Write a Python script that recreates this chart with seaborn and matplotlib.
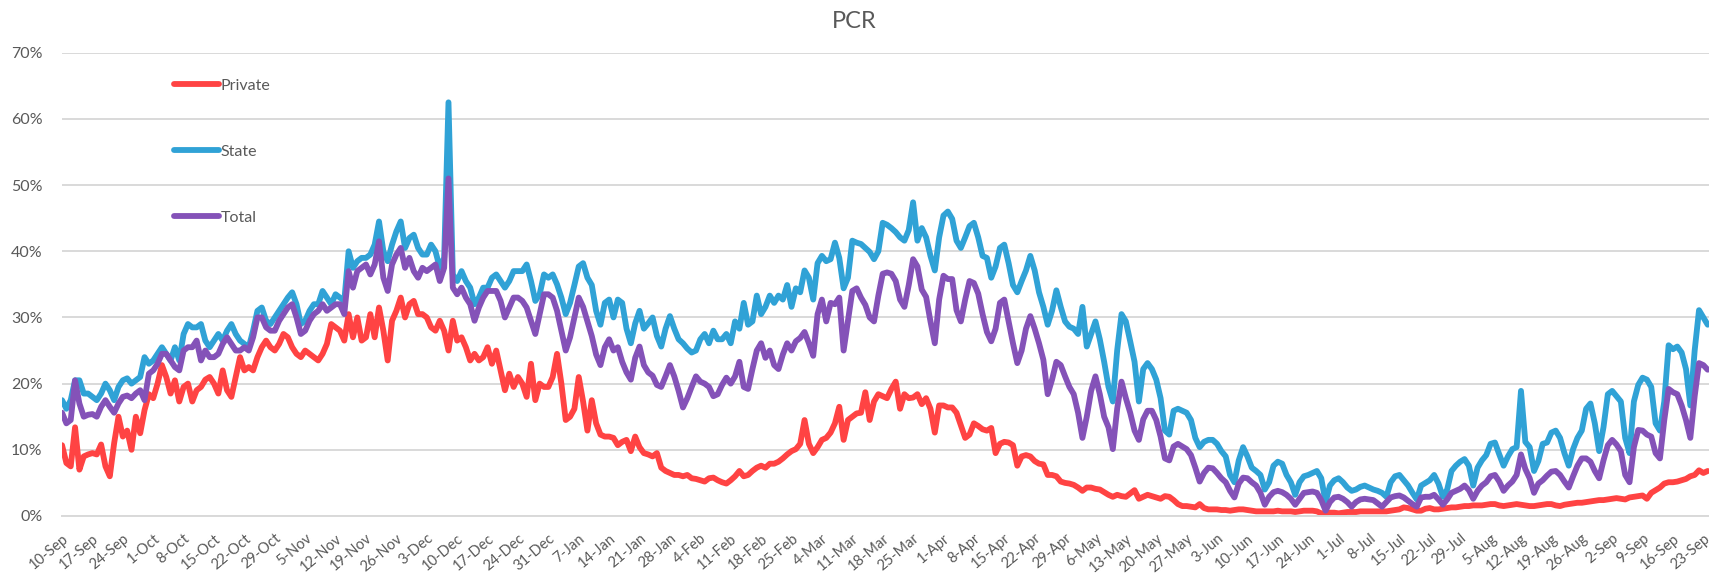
import matplotlib
matplotlib.use("Agg")
import matplotlib.pyplot as plt
import matplotlib.ticker as mticker
from matplotlib.lines import Line2D
import pandas as pd
import seaborn as sns

START = "2020-09-10"
SERIES = ["Private", "State", "Total"]
COLORS = {"Private": "#ff4343", "State": "#30a2d6", "Total": "#8452b8"}

# daily positivity (%), one row per week starting 10-Sep
private = [
    10.7, 8, 7.5, 13.4, 7, 9, 9.3,
    9.5, 9.3, 10.8, 7.5, 6, 11, 15,
    12, 12.9, 10, 15, 12.5, 16, 18.4,
    17.8, 20, 22.8, 21, 18.5, 20.5, 17.3,
    19.5, 20, 17.3, 19, 19.5, 20.6, 21,
    20, 18.5, 22, 19, 18, 21, 24,
    22, 22.5, 22, 24, 25.5, 26.5, 25.5,
    25, 26, 27.5, 27, 25.5, 24.5, 24,
    25, 24.5, 24, 23.5, 24.5, 26, 29,
    28.5, 28, 26.5, 30.5, 27, 30, 26.5,
    27, 30.5, 27, 31.5, 28, 23.5, 29.5,
    31, 33, 30, 32, 32.5, 30.5, 30.5,
    30, 28.5, 28, 29.5, 28, 25, 29.5,
    26.5, 27, 25.5, 23.5, 24.5, 23.5, 24,
    25.5, 23, 25, 22, 19, 21.5, 19.5,
    21, 20, 18, 23, 17.5, 20, 19.5,
    19.5, 21, 24.5, 20, 14.5, 15, 16.2,
    21, 17.3, 12.9, 17.5, 14, 12.3, 12,
    12, 11.8, 10.7, 11.2, 11.5, 9.8, 12,
    10.4, 9.5, 9.3, 9, 9.5, 7.3, 6.8,
    6.5, 6.2, 6.2, 6, 6.2, 5.7, 5.6,
    5.4, 5.2, 5.7, 5.8, 5.4, 5.1, 4.9,
    5.4, 6, 6.8, 6, 6.2, 6.8, 7.3,
    7.6, 7.3, 7.9, 7.9, 8.2, 8.7, 9.3,
    9.8, 10.1, 10.9, 14.5, 10.9, 9.5, 10.4,
    11.5, 11.8, 12.6, 14, 16.5, 11.5, 14.5,
    15, 15.5, 15.6, 18.7, 14.5, 17.3, 18.4,
    18.1, 17.8, 19.2, 20.3, 16.2, 18.4, 17.8,
    17.9, 18.4, 16.9, 17.8, 16.2, 12.6, 16.7,
    16.7, 16.4, 16.4, 15.6, 13.7, 11.8, 12.3,
    14, 13.6, 13.1, 12.9, 13.3, 9.5, 10.9,
    11.2, 11.1, 10.7, 7.6, 9, 9.2, 9,
    8.3, 7.9, 7.8, 6.2, 6.2, 6, 5.2,
    5, 4.9, 4.7, 4.3, 3.8, 4.3, 4.3,
    4.1, 4, 3.6, 3.2, 2.9, 3.2, 3,
    2.9, 3.4, 3.9, 2.6, 2.9, 3.2, 3,
    2.8, 2.6, 3, 2.9, 2.4, 1.8, 1.5,
    1.5, 1.4, 1.3, 1.8, 1.2, 1, 1,
    1, 0.9, 0.9, 0.8, 0.9, 1, 1,
    0.9, 0.8, 0.7, 0.7, 0.7, 0.7, 0.7,
    0.8, 0.7, 0.7, 0.7, 0.6, 0.7, 0.8,
    0.8, 0.8, 0.7, 0.4, 0.4, 0.5, 0.5,
    0.4, 0.5, 0.6, 0.6, 0.6, 0.7, 0.7,
    0.7, 0.7, 0.7, 0.7, 0.7, 0.8, 0.9,
    1, 1.3, 1.2, 1, 0.8, 0.8, 1.1,
    1.2, 1, 1, 1.1, 1.2, 1.3, 1.3,
    1.4, 1.5, 1.5, 1.6, 1.6, 1.6, 1.7,
    1.8, 1.8, 1.6, 1.5, 1.6, 1.7, 1.8,
    1.7, 1.6, 1.5, 1.5, 1.6, 1.7, 1.8,
    1.8, 1.6, 1.5, 1.7, 1.8, 1.9, 2,
    2, 2.1, 2.2, 2.3, 2.4, 2.4, 2.5,
    2.6, 2.7, 2.6, 2.5, 2.8, 2.9, 3,
    3.1, 2.6, 3.5, 3.9, 4.3, 4.9, 5.1,
    5.1, 5.2, 5.4, 5.6, 6, 6.2, 6.9,
    6.5, 6.8,
]

state = [
    17.5, 16.2, 17.5, 20.5, 20.5, 18.5, 18.5,
    18, 17.5, 18.5, 20, 19, 17.5, 19.5,
    20.5, 20.8, 20, 20.5, 21, 24, 23,
    23.5, 24.5, 25.5, 24.5, 23.5, 25.5, 23.5,
    27.5, 29, 28.5, 28.5, 29, 26.5, 25.5,
    26.5, 27.5, 26.5, 28, 29, 27.5, 26.5,
    26, 25.5, 28, 31, 31.5, 29.5, 29,
    30, 31, 32, 33, 33.8, 32, 29,
    29.5, 31, 32, 32, 34, 33, 32,
    33.5, 33, 32.5, 40, 37.5, 38.5, 39,
    39, 39.5, 41, 44.5, 40, 38.5, 41,
    43, 44.5, 40.5, 42, 42.5, 40.5, 39.5,
    39.5, 41, 40, 37.5, 39, 62.5, 36.5,
    35.5, 37, 35.5, 34.5, 32, 33, 34.5,
    34.5, 36, 36.5, 35.5, 34.5, 35.5, 37,
    37, 37, 38, 35.5, 32.5, 33.5, 36.5,
    36, 36.5, 35, 33, 30.5, 32.2, 34.9,
    37.7, 38.2, 36, 34.9, 31, 28.9, 32.2,
    32.7, 30, 32.7, 32.2, 28.3, 26.1, 29.1,
    31, 28.3, 29.1, 30, 27.2, 25.6, 28.3,
    30.2, 28.3, 26.7, 26.1, 25.3, 24.7, 25,
    26.7, 27.5, 26.1, 28, 26.7, 26.7, 27.5,
    26.1, 29.4, 28.3, 32.2, 28.9, 29.4, 33.3,
    30.5, 31.6, 33.3, 32.2, 33.3, 32.7, 34.9,
    31.6, 34.4, 33.8, 37.1, 36, 32.7, 38.2,
    39.3, 38.5, 38.8, 41.3, 39, 34.4, 36,
    41.6, 41.3, 41.1, 40.5, 39.9, 38.8, 40,
    44.3, 44, 43.5, 42.9, 42.1, 41.6, 43.2,
    47.4, 41.6, 43.5, 42.1, 39.3, 37.1, 42.1,
    45.4, 46, 44.9, 41.6, 40.5, 42.1, 43.8,
    44.3, 42.1, 39.3, 39, 36, 37.7, 40.5,
    41, 38.2, 34.9, 33.8, 35.5, 37.1, 39.3,
    37.1, 33.8, 31.6, 28.9, 31, 34.1, 31.6,
    29.4, 28.6, 28.3, 27.5, 31.6, 25.6, 27.5,
    29.4, 26.7, 23.3, 19.5, 17.3, 25, 30.5,
    29.4, 26.4, 23.3, 17.3, 22.2, 23.1, 22.2,
    20.6, 17.8, 12.9, 12.3, 15.9, 16.2, 15.9,
    15.6, 14.5, 11.8, 10.4, 11.2, 11.5, 11.5,
    10.9, 9.8, 9, 6.2, 5.1, 8.4, 10.4,
    9, 7.3, 6.8, 6.2, 4, 5.1, 7.6,
    8.2, 7.9, 6.2, 5.1, 3.2, 5.1, 6,
    6.2, 6.5, 6.8, 5.7, 2.1, 4.6, 5.4,
    5.7, 5.1, 4.3, 3.8, 4, 4.4, 4.6,
    4.3, 4, 3.8, 3.5, 2.9, 5.1, 6,
    6.2, 5.4, 4.6, 3.5, 2.5, 4.6, 5,
    5.4, 6.2, 4.9, 2.9, 4, 6.8, 7.6,
    8.2, 8.6, 7.6, 4.6, 7.3, 8.4, 9.2,
    10.9, 11.1, 9.3, 7.6, 9, 10.1, 10.4,
    18.9, 11.2, 10.4, 6.8, 8.3, 10.9, 11.1,
    12.6, 12.9, 11.8, 9.5, 7.6, 10.1, 11.8,
    12.9, 16.2, 17, 14, 9.8, 13.4, 18.4,
    18.9, 18.1, 17.3, 11.8, 9.5, 17.3, 19.8,
    20.9, 20.6, 19.5, 14, 12.9, 17.3, 25.8,
    25.2, 25.6, 24.7, 22.2, 16.7, 25, 31.1,
    30, 28.9,
]

total = [
    15.6, 14, 14.5, 20.5, 17, 15, 15.3,
    15.4, 15, 16.5, 17.5, 16.5, 15.6, 17,
    18, 18.2, 17.8, 18.5, 19, 17.5, 21.5,
    22, 23, 24.5, 24.5, 23.5, 22.5, 22,
    25, 25.5, 25.5, 26.5, 23.5, 25, 24,
    24, 24.5, 26, 27, 26, 25, 25,
    25.5, 25, 27, 30, 30, 28.5, 28,
    28, 29.5, 30.5, 31.5, 32, 30, 27.5,
    28, 29.5, 30.5, 31, 32, 31, 31.5,
    32, 32, 30.5, 37, 34.5, 37, 37.5,
    38, 36.5, 38, 41.5, 36, 34, 38,
    39.5, 40.5, 37.5, 39, 37, 36, 37.5,
    37, 37.5, 38, 35.5, 37.5, 51, 34.5,
    33.5, 34.5, 33, 32, 29.5, 31.5, 33,
    34, 34, 34, 32.5, 30, 31.5, 33,
    33, 32.5, 31.5, 29.5, 27.5, 30.5, 33.5,
    33.5, 33, 31, 28, 25, 27, 30,
    33, 31.6, 29.4, 27.2, 24.4, 22.8, 25.5,
    26.7, 25, 25.5, 23.3, 21.7, 20.6, 23.9,
    25.6, 22.8, 21.7, 21.2, 19.8, 19.5, 21.1,
    22.8, 21.1, 18.9, 16.4, 17.8, 19.5, 21.1,
    20.3, 20, 19.5, 18.1, 18.4, 19.8, 20.9,
    20, 21.1, 23.3, 19.5, 19.2, 22.2, 25,
    26.1, 23.9, 25, 22.8, 22.2, 24.4, 26.1,
    25, 26.4, 26.9, 27.8, 26.1, 24.2, 30.5,
    32.7, 29.4, 32.2, 32, 33, 25, 29.5,
    34, 34.4, 33, 31.9, 30, 29.4, 33.3,
    36.6, 36.8, 36.6, 35.5, 32.7, 31.6, 34.9,
    38.8, 37.7, 34.2, 33.1, 29.4, 26.1, 32.7,
    36.3, 35.8, 35.8, 31.1, 29.4, 32.7, 35.5,
    35.2, 33.6, 30.5, 27.8, 26.4, 28.3, 32.2,
    32.7, 29.4, 26.1, 23.1, 25, 28.3, 30.2,
    28.3, 26.1, 23.6, 18.4, 20.6, 23.3, 22.8,
    21.1, 19.5, 18.4, 15.6, 11.8, 15, 18.9,
    21.1, 18.4, 15, 13.4, 10.1, 16.2, 20.3,
    17.8, 15.6, 12.9, 11.5, 14.6, 15.9, 15.9,
    14.5, 12, 8.7, 8.4, 10.5, 10.9, 10.5,
    10.1, 9.2, 7.3, 5.2, 6.5, 7.3, 7.2,
    6.5, 5.7, 5.1, 3.8, 2.8, 4.9, 5.8,
    5.7, 5.1, 4.6, 3.5, 1.7, 2.9, 3.6,
    3.8, 3.6, 3.2, 2.6, 1.7, 2.6, 3.5,
    3.6, 3.7, 3.5, 2.4, 0.8, 2.1, 2.8,
    2.9, 2.6, 2.1, 1.4, 2.1, 2.5, 2.6,
    2.5, 2.4, 1.9, 1.4, 2.1, 2.8, 3,
    3.1, 2.8, 2.3, 1.8, 1.4, 2.8, 2.9,
    2.9, 3.2, 2.5, 1.7, 2.5, 3.5, 3.8,
    4.1, 4.6, 3.9, 2.6, 3.8, 4.6, 5.1,
    6, 6.2, 5.2, 3.8, 4.6, 5.2, 6.2,
    9.3, 7.1, 5.7, 3.5, 4.9, 5.4, 6.1,
    6.7, 6.8, 6.2, 5.2, 4.3, 6, 7.6,
    8.7, 8.7, 8.2, 6.8, 5.7, 8.4, 10.7,
    11.5, 10.8, 9.8, 6.2, 5.1, 10.4, 13,
    12.9, 12.3, 12, 9.5, 8.7, 14.5, 19.2,
    18.7, 18.4, 16.7, 14.5, 11.8, 18.1, 23.1,
    22.8, 22.1,
]


def main() -> None:
    dates = pd.date_range(START, periods=len(state), freq="D")
    df = pd.concat(
        [
            pd.DataFrame({"date": dates, "value": vals, "series": name})
            for name, vals in zip(SERIES, [private, state, total])
        ],
        ignore_index=True,
    )

    sns.set_style("white")
    plt.rcParams["font.family"] = ["Lato", "DejaVu Sans"]
    grey = "#595959"

    fig = plt.figure(figsize=(17.09, 5.73), dpi=100)
    ax = fig.add_axes([0.0363, 0.0995, 0.9637, 0.8085])

    for name in SERIES:
        sns.lineplot(
            data=df[df["series"] == name], x="date", y="value", ax=ax,
            color=COLORS[name], linewidth=4.2, legend=False,
            solid_joinstyle="round", solid_capstyle="round",
        )

    ax.set_ylim(0, 70)
    ax.set_xlim(dates[0], dates[0] + pd.Timedelta(days=379.3))
    ax.yaxis.set_major_locator(mticker.MultipleLocator(10))
    ax.yaxis.set_major_formatter(mticker.FuncFormatter(lambda v, _: f"{v:.0f}%"))
    ax.grid(axis="y", color="#d9d9d9", linewidth=1.4)
    ax.set_axisbelow(True)

    ticks = pd.date_range(START, "2021-09-23", freq="7D")
    ax.set_xticks(ticks)
    ax.set_xticklabels([f"{d.day}-{d:%b}" for d in ticks], rotation=40,
                       ha="right", rotation_mode="anchor")
    ax.tick_params(axis="x", length=5, color="#d9d9d9", width=1.3, pad=6,
                   labelsize=10.5, labelcolor=grey)
    ax.tick_params(axis="y", length=0, pad=14, labelsize=11.5, labelcolor=grey)

    for side in ["top", "right", "left"]:
        ax.spines[side].set_visible(False)
    ax.spines["bottom"].set_color("#d9d9d9")
    ax.spines["bottom"].set_linewidth(1.4)
    ax.set_xlabel("")
    ax.set_ylabel("")

    fig.text(0.5, 0.962, "PCR", ha="center", va="center", fontsize=17, color=grey)

    handles = [Line2D([], [], color=COLORS[n], linewidth=4.2) for n in SERIES]
    fig.legend(handles, SERIES, loc="upper left", bbox_to_anchor=(0.102, 0.863),
               frameon=False, fontsize=11.5, labelcolor=grey, handlelength=2.8,
               handletextpad=0.1, labelspacing=3.25, borderpad=0, borderaxespad=0)

    fig.savefig("out.png", dpi=100)
    plt.close(fig)


if __name__ == "__main__":
    main()
